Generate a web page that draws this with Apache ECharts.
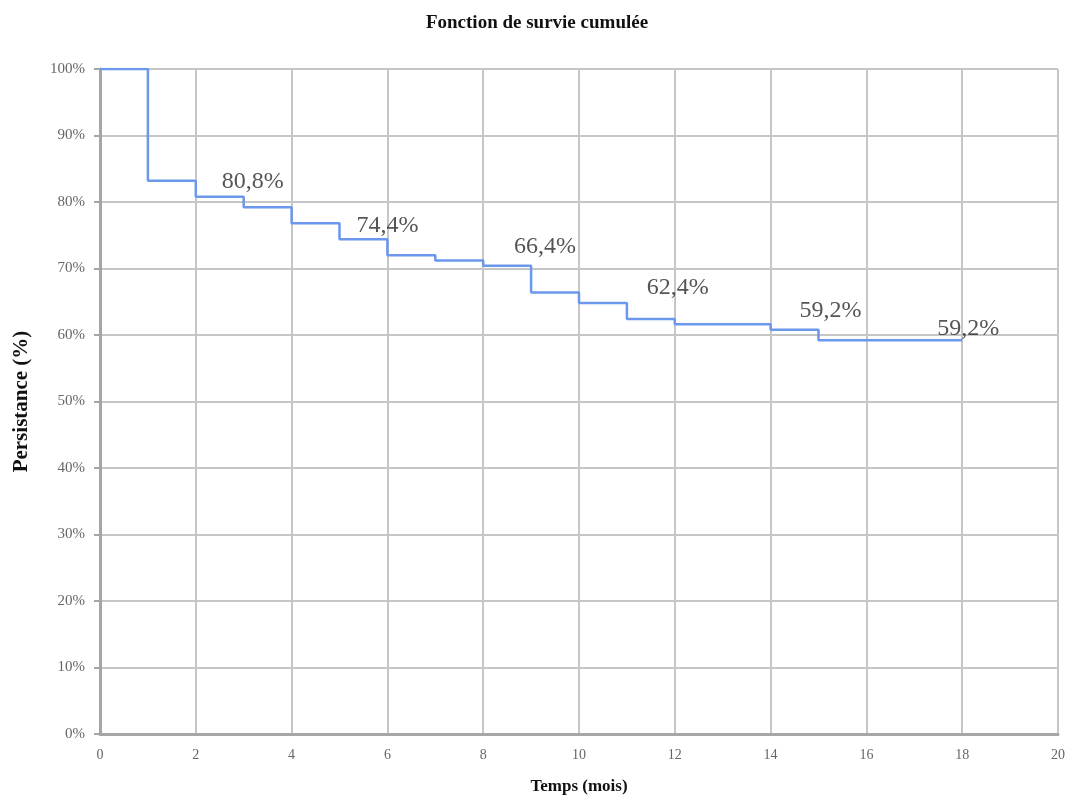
<!DOCTYPE html>
<html>
<head>
<meta charset="utf-8">
<script src="https://cdn.jsdelivr.net/npm/echarts@6/dist/echarts.min.js"></script>
<style>
  html, body { margin: 0; padding: 0; background: #ffffff; }
  #chart { width: 1074px; height: 798px; }
</style>
</head>
<body>
<div id="chart"></div>
<script>
// Kaplan-Meier style survival curve: time (months) and cumulative survival (%) after each event
const times = [0, 1, 2, 3, 4, 5, 6, 7, 8, 9, 10, 11, 12, 14, 15, 18];
const survival = [100, 83.2, 80.8, 79.2, 76.8, 74.4, 72.0, 71.2, 70.4, 66.4, 64.8, 62.4, 61.6, 60.8, 59.2, 59.2];

// Annotated points (time, survival %)
const labelTimes = [3, 6, 9, 12, 15, 18];
const labelValues = [80.8, 74.4, 66.4, 62.4, 59.2, 59.2];

const xTicks = [0, 2, 4, 6, 8, 10, 12, 14, 16, 18, 20];
const yTicks = [0, 10, 20, 30, 40, 50, 60, 70, 80, 90, 100];

// Text placement of each annotation relative to its point (pixels)
const labelOffsets = [[9, -15], [0, -14], [14, -46], [3, -31], [12, -30], [6, -12]];

const serif = '"Liberation Serif", "DejaVu Serif", serif';

const chart = echarts.init(document.getElementById('chart'), null, { renderer: 'canvas' });

chart.setOption({
  animation: false,
  backgroundColor: '#ffffff',
  title: {
    text: 'Fonction de survie cumulée',
    left: 'center',
    top: 9,
    textStyle: { fontFamily: serif, fontWeight: 'bold', fontSize: 19, color: '#111111' }
  },
  grid: { left: 100, right: 16, top: 69, bottom: 64, containLabel: false, outerBoundsMode: 'none' },
  xAxis: {
    type: 'value',
    min: xTicks[0],
    max: xTicks[xTicks.length - 1],
    interval: 2,
    name: 'Temps (mois)',
    nameLocation: 'middle',
    nameGap: 44,
    nameTextStyle: { fontFamily: serif, fontWeight: 'bold', fontSize: 17, color: '#111111' },
    axisLine: { show: true, lineStyle: { color: '#a6a6a6', width: 3 } },
    axisTick: { show: false },
    axisLabel: { margin: 14, fontFamily: serif, fontSize: 14, color: '#666666' },
    splitLine: { show: true, lineStyle: { color: '#c6c6c6', width: 2 } }
  },
  yAxis: {
    type: 'value',
    min: yTicks[0],
    max: yTicks[yTicks.length - 1],
    interval: 10,
    name: 'Persistance (%)',
    nameLocation: 'middle',
    nameGap: 68,
    nameRotate: 90,
    nameTextStyle: { fontFamily: serif, fontWeight: 'bold', fontSize: 21, color: '#111111' },
    axisLine: { show: true, lineStyle: { color: '#a6a6a6', width: 3 } },
    axisTick: { show: true, length: 6, inside: false, lineStyle: { color: '#a6a6a6', width: 2 } },
    axisLabel: { margin: 15, fontFamily: serif, fontSize: 15, color: '#666666', formatter: v => v + '%' },
    splitLine: { show: true, lineStyle: { color: '#c6c6c6', width: 2 } }
  },
  series: [
    {
      type: 'line',
      step: 'end',
      data: times.map((t, i) => [t, survival[i]]),
      showSymbol: false,
      symbol: 'none',
      lineStyle: { color: '#6b97ec', width: 2.5 },
      z: 3
    },
    {
      type: 'scatter',
      symbolSize: 0,
      data: labelTimes.map((t, i) => ({
        value: [t, labelValues[i]],
        label: { offset: labelOffsets[i] }
      })),
      label: {
        show: true,
        position: 'inside',
        fontFamily: serif,
        fontSize: 24,
        color: '#2a2a2a',
        formatter: p => p.value[1].toFixed(1).replace('.', ',') + '%'
      },
      z: 4
    }
  ]
});
</script>
</body>
</html>
